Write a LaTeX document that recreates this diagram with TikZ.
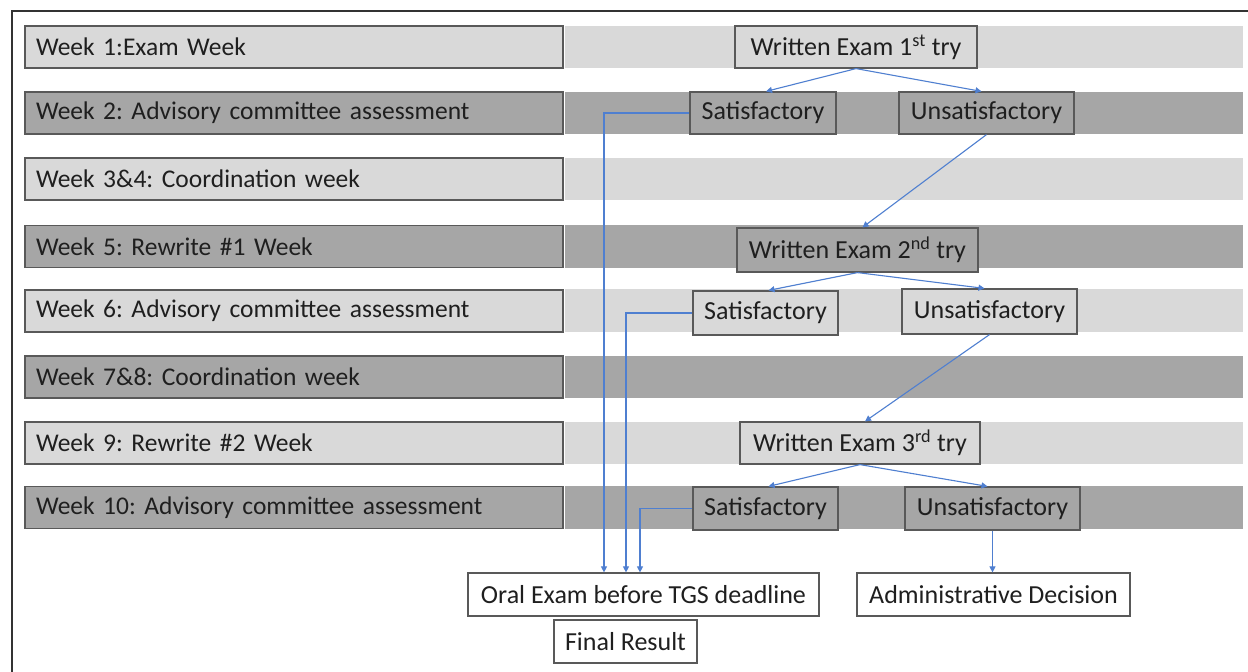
\documentclass[tikz,border=0pt]{standalone}
\usepackage{fontspec}
\setmainfont{Carlito}
\usetikzlibrary{arrows.meta,calc}
\definecolor{lightg}{HTML}{D9D9D9}
\definecolor{darkg}{HTML}{A6A6A6}
\definecolor{edgeg}{HTML}{595959}
\definecolor{txt}{HTML}{1F1F1F}
\definecolor{arrblue}{HTML}{4F7FD0}
\frenchspacing
\tikzset{
  weekbox/.style={draw=edgeg, line width=1.2pt, inner xsep=11pt, inner ysep=0pt,
    text width=516pt, align=left, minimum height=42pt, text=txt,
    font=\fontsize{25.5}{30}\selectfont},
  flowbox/.style={draw=edgeg, line width=1.2pt, inner sep=0pt, minimum height=42pt,
    text=txt, font=\fontsize{26}{30}\selectfont},
  arr/.style={draw=arrblue, line width=1.1pt, -{Triangle[length=6pt,width=6pt]}}
}
\begin{document}
\begin{tikzpicture}[x=1pt,y=-1pt]
\useasboundingbox (0,0) rectangle (1248,672);
\fill[white] (0,0) rectangle (1248,672);
% frame
\draw[line width=2pt, color=black!80] (12,672) -- (12,11) -- (1248,11);
% bands
\fill[lightg] (565,26) rectangle (1243,68);
\fill[darkg]  (565,92) rectangle (1243,134);
\fill[lightg] (565,158) rectangle (1243,200);
\fill[darkg]  (565,225) rectangle (1243,268);
\fill[lightg] (565,289) rectangle (1243,332);
\fill[darkg]  (565,356) rectangle (1243,398);
\fill[lightg] (565,422) rectangle (1243,464);
\fill[darkg]  (565,486) rectangle (1243,529);
% week boxes
\node[weekbox, fill=lightg] (w1) at (294,47) {Week 1:Exam Week};
\node[weekbox, fill=darkg]  (w2) at (294,113) {Week 2: Advisory committee assessment};
\node[weekbox, fill=lightg] (w3) at (294,179) {Week 3\&4: Coordination week};
\node[weekbox, fill=darkg]  (w5) at (294,246.5) {Week 5: Rewrite \#1 Week};
\node[weekbox, fill=lightg] (w6) at (294,311) {Week 6: Advisory committee assessment};
\node[weekbox, fill=darkg]  (w7) at (294,377) {Week 7\&8: Coordination week};
\node[weekbox, fill=lightg] (w9) at (294,443) {Week 9: Rewrite \#2 Week};
\node[weekbox, fill=darkg]  (w10) at (294,507.5) {Week 10: Advisory committee assessment};
% flow boxes
\node[flowbox, fill=lightg, minimum width=242pt] (we1) at (856,47) {Written Exam 1\textsuperscript{st} try};
\node[flowbox, fill=darkg, minimum width=146pt] (s1) at (763,113) {Satisfactory};
\node[flowbox, fill=darkg, minimum width=175pt] (u1) at (986.5,113) {Unsatisfactory};
\node[flowbox, fill=darkg, minimum width=241pt, minimum height=44pt] (we2) at (857.5,250) {Written Exam 2\textsuperscript{nd} try};
\node[flowbox, fill=lightg, minimum width=145pt, minimum height=44pt] (s2) at (765.5,313) {Satisfactory};
\node[flowbox, fill=lightg, minimum width=175pt, minimum height=45pt] (u2) at (989.5,311.5) {Unsatisfactory};
\node[flowbox, fill=lightg, minimum width=240pt] (we3) at (860,443) {Written Exam 3\textsuperscript{rd} try};
\node[flowbox, fill=darkg, minimum width=145pt, minimum height=43pt] (s3) at (765.5,508.5) {Satisfactory};
\node[flowbox, fill=darkg, minimum width=175pt, minimum height=43pt] (u3) at (992.5,508.5) {Unsatisfactory};
\node[flowbox, fill=white, minimum width=351pt, minimum height=43pt] (oral) at (643.5,594.5) {Oral Exam before TGS deadline};
\node[flowbox, fill=white, minimum width=143pt, minimum height=43pt] (final) at (625.5,641.5) {Final Result};
\node[flowbox, fill=white, minimum width=273pt, minimum height=43pt] (admin) at (993.5,594.5) {Administrative Decision};
% connectors
\draw[arr] (we1.south) -- ([xshift=3pt]s1.north);
\draw[arr] (we1.south) -- ([xshift=-5pt]u1.north);
\draw[arr] (u1.south) -- ([xshift=5pt]we2.north);
\draw[arr] (we2.south) -- ([xshift=3pt]s2.north);
\draw[arr] (we2.south) -- ([xshift=-5pt]u2.north);
\draw[arr] (u2.south) -- ([xshift=5pt]we3.north);
\draw[arr] (we3.south) -- ([xshift=3pt]s3.north);
\draw[arr] (we3.south) -- ([xshift=-5pt]u3.north);
\draw[arr] (s1.west) -| ([xshift=-39.5pt]oral.north);
\draw[arr] (s2.west) -| ([xshift=-17.5pt]oral.north);
\draw[arr] (s3.west) -| ([xshift=-3.5pt]oral.north);
\draw[arr] (u3.south) -- (u3.south |- admin.north);
\end{tikzpicture}
\end{document}
